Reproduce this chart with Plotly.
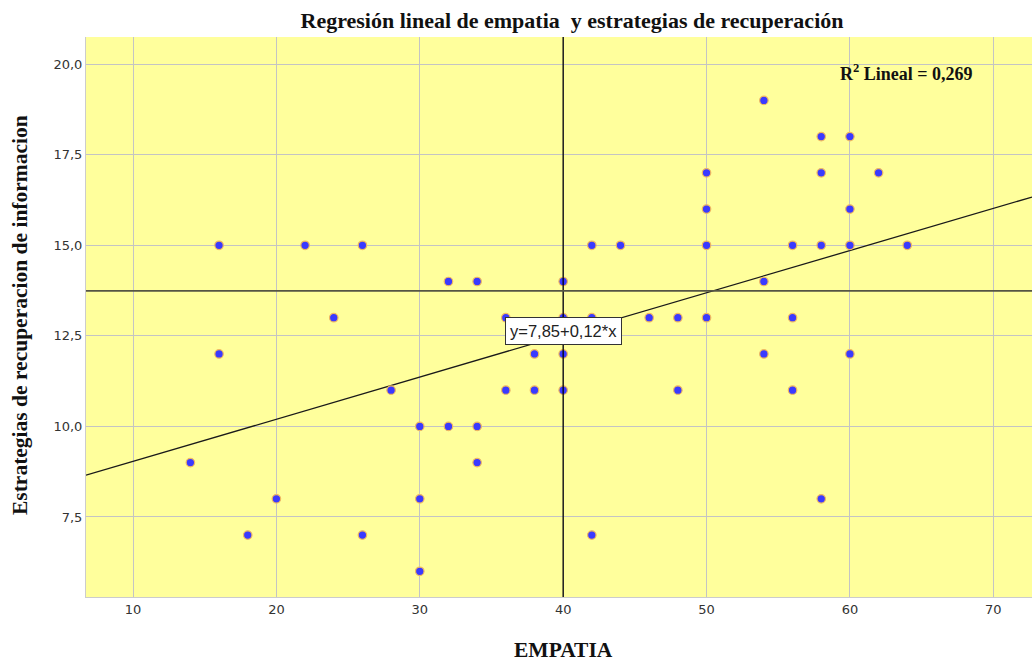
import plotly.graph_objects as go
import numpy as np

# Data
empatia = [14, 16, 16, 18, 20, 22, 24, 26, 26, 28, 30, 30, 30, 32, 32, 34, 34, 34,
           36, 36, 38, 38, 40, 40, 40, 40, 42, 42, 42, 44, 46, 48, 48,
           50, 50, 50, 50, 54, 54, 54, 56, 56, 56, 58, 58, 58, 58,
           60, 60, 60, 60, 62, 64]
estrategias = [9, 15, 12, 7, 8, 15, 13, 15, 7, 11, 10, 8, 6, 14, 10, 14, 10, 9,
               13, 11, 12, 11, 14, 13, 12, 11, 15, 13, 7, 15, 13, 13, 11,
               17, 16, 15, 13, 19, 14, 12, 15, 13, 11, 18, 17, 15, 8,
               18, 16, 15, 12, 17, 15]

# Fit line as drawn (unrounded estimate); label shows SPSS rounded coefficients
intercept = 7.87
slope = 0.1164
mean_x = 40.0
mean_y = 13.74
r2_text = "R<sup>2</sup> Lineal = 0,269"
eq_text = "y=7,85+0,12*x"
x_ticks = [10, 20, 30, 40, 50, 60, 70]
y_ticks = [7.5, 10, 12.5, 15, 17.5, 20]

x_range = [6.72, 72.7]
y_range = [5.29, 20.75]

serif = "Liberation Serif"
sans = "DejaVu Sans"

W, H = 1032, 662

fig = go.Figure()

# Regression line
xl = np.array(x_range)
fig.add_trace(go.Scatter(x=xl, y=intercept + slope * xl, mode="lines",
                         line=dict(color="#1a1a1a", width=1.3),
                         showlegend=False, hoverinfo="skip"))

# Points
fig.add_trace(go.Scatter(x=empatia, y=estrategias, mode="markers",
                         marker=dict(color="#3a3aff", size=8.5,
                                     line=dict(color="#f0b860", width=1.2)),
                         showlegend=False))

# Mean reference lines
fig.add_shape(type="line", xref="x", yref="paper", x0=mean_x, x1=mean_x, y0=0, y1=1,
              line=dict(color="#000000", width=1.3))
fig.add_shape(type="line", xref="paper", yref="y", x0=0, x1=1, y0=mean_y, y1=mean_y,
              line=dict(color="#555544", width=1.6))

# Equation label
fig.add_annotation(x=mean_x, y=12.63, xref="x", yref="y", text=eq_text,
                   showarrow=False, font=dict(family="Liberation Sans", size=16.5, color="#222222"),
                   bgcolor="#ffffff", bordercolor="#333333", borderwidth=1, borderpad=4)

# R2 label
fig.add_annotation(x=59.2, y=19.78, xref="x", yref="y", text="<b>" + r2_text + "</b>",
                   showarrow=False, xanchor="left",
                   font=dict(family=serif, size=18, color="#111111"))

# Axis titles as annotations for precise placement
fig.add_annotation(x=mean_x, y=0, xref="x", yref="paper", yanchor="middle",
                   yshift=-53, text="<b>EMPATIA</b>", showarrow=False,
                   font=dict(family=serif, size=21.5, color="#111111"))
fig.add_annotation(x=0, y=0.5, xref="paper", yref="paper", xanchor="center",
                   xshift=-66, yshift=2, textangle=-90, showarrow=False,
                   text="<b>Estrategias de recuperacion de informacion</b>",
                   font=dict(family=serif, size=21.5, color="#111111"))

fig.update_layout(
    width=W, height=H,
    margin=dict(l=86, r=0, t=37, b=65),
    paper_bgcolor="#ffffff",
    plot_bgcolor="#ffff9c",
    separators=",.",
    title=dict(text="<b>Regresión lineal de empatia  y estrategias de recuperación</b>",
               x=572 / W, xanchor="center", y=1 - 20 / H, yanchor="middle",
               font=dict(family=serif, size=22, color="#111111")),
    xaxis=dict(range=x_range, tickvals=x_ticks,
               showgrid=True, gridcolor="#c4c4c4", gridwidth=1.2,
               zeroline=False, showline=True, linecolor="#cccccc", mirror=False,
               ticks="", tickfont=dict(family=sans, size=13, color="#333333")),
    yaxis=dict(range=y_range, tickvals=y_ticks, tickformat=".1f",
               showgrid=True, gridcolor="#c4c4c4", gridwidth=1.2,
               zeroline=False, showline=True, linecolor="#cccccc",
               ticks="", tickfont=dict(family=sans, size=13, color="#333333")),
)

fig.write_html("out.html",
               config={"displayModeBar": False},
               post_script="document.body.style.margin='0px';document.body.style.overflow='hidden';")
